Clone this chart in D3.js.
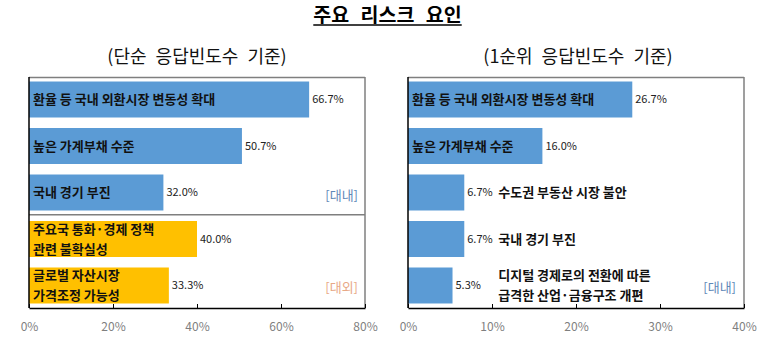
<!DOCTYPE html>
<html><head><meta charset="utf-8">
<script src="https://cdn.jsdelivr.net/npm/d3@7"></script>
<style>body{margin:0;background:#fff}svg{display:block}text{font-family:"Noto Sans CJK KR","Noto Sans",sans-serif}</style>
</head><body>
<svg id="c" width="765" height="341"></svg>
<script>
const title = "주요 리스크 요인";
const leftSubtitle = "(단순 응답빈도수 기준)";
const rightSubtitle = "(1순위 응답빈도수 기준)";

const leftCategories = [["환율 등 국내 외환시장 변동성 확대"], ["높은 가계부채 수준"], ["국내 경기 부진"], ["주요국 통화·경제 정책", "관련 불확실성"], ["글로벌 자산시장", "가격조정 가능성"]];
const leftValues = [66.7, 50.7, 32.0, 40.0, 33.3];
const leftGroup = ["대내", "대내", "대내", "대외", "대외"];
const leftTicks = [0, 20, 40, 60, 80];

const rightCategories = [["환율 등 국내 외환시장 변동성 확대"], ["높은 가계부채 수준"], ["수도권 부동산 시장 불안"], ["국내 경기 부진"], ["디지털 경제로의 전환에 따른", "급격한 산업·금융구조 개편"]];
const rightValues = [26.7, 16.0, 6.7, 6.7, 5.3];
const rightLabelInside = [true, true, false, false, false];
const rightTicks = [0, 10, 20, 30, 40];

const svg = d3.select("#c");
const BLUE = "#5b9bd5", ORANGE = "#ffc000", FRAME = "#7f7f7f";

// Title
const t = svg.append("text").attr("x", 387.5).attr("y", 22).attr("text-anchor", "middle")
  .attr("font-size", 19.5).attr("font-weight", "bold").attr("word-spacing", 7).attr("fill", "#000").text(title);
const tb = t.node().getBBox();
svg.append("line").attr("x1", tb.x).attr("x2", tb.x + tb.width).attr("y1", 25).attr("y2", 25).attr("stroke", "#000").attr("stroke-width", 1.5);

svg.append("text").attr("x", 197).attr("y", 63).attr("text-anchor", "middle").attr("font-size", 18).attr("word-spacing", 5).attr("fill", "#111").text(leftSubtitle);
svg.append("text").attr("x", 578).attr("y", 63).attr("text-anchor", "middle").attr("font-size", 18).attr("word-spacing", 5).attr("fill", "#111").text(rightSubtitle);

const plotTop = 77, plotBottom = 308;
function band(n) {
  return d3.scaleBand().domain(d3.range(n)).range([plotTop, plotBottom]).paddingInner(0.226).paddingOuter(0.097);
}

function axisFrame(g, x, ticks, x0, x1) {
  g.append("line").attr("x1", x0).attr("x2", x1).attr("y1", plotTop + 0.5).attr("y2", plotTop + 0.5).attr("stroke", FRAME).attr("stroke-width", 1.5);
  g.append("line").attr("x1", x1).attr("x2", x1).attr("y1", plotTop).attr("y2", plotBottom).attr("stroke", FRAME).attr("stroke-width", 1.5);
  const ax = g.append("g").attr("transform", `translate(0,${plotBottom})`)
    .call(d3.axisBottom(x).tickValues(ticks).tickSizeInner(-4).tickSizeOuter(0).tickFormat(d => d + "%").tickPadding(14));
  ax.select(".domain").attr("stroke", "#000").attr("stroke-width", 1.5);
  ax.selectAll(".tick line").attr("stroke", "#000");
  ax.selectAll(".tick text").attr("fill", "#7f7f7f").attr("font-size", 12).attr("font-family", "'Noto Sans',sans-serif");
  g.append("line").attr("x1", x0).attr("x2", x0).attr("y1", plotTop).attr("y2", plotBottom).attr("stroke", "#000").attr("stroke-width", 1.5);
}

// LEFT PANEL
{
  const g = svg.append("g");
  const x = d3.scaleLinear().domain([0, 80]).range([29, 365]);
  const y = band(leftValues.length);
  g.selectAll("rect").data(leftValues).join("rect")
    .attr("x", x(0)).attr("y", (d, i) => y(i)).attr("width", d => x(d) - x(0)).attr("height", y.bandwidth())
    .attr("fill", (d, i) => leftGroup[i] === "대내" ? BLUE : ORANGE);
  const sepY = (y(2) + y.bandwidth() + y(3)) / 2 - 1;
  g.append("line").attr("x1", x(0)).attr("x2", x(80)).attr("y1", sepY).attr("y2", sepY).attr("stroke", FRAME).attr("stroke-width", 1.5);
  axisFrame(g, x, leftTicks, x(0), x(80));
  leftValues.forEach((v, i) => {
    const cy = y(i) + y.bandwidth() / 2;
    const lines = leftCategories[i];
    lines.forEach((s, k) => {
      g.append("text").attr("x", x(0) + 4).attr("y", cy + (k - (lines.length - 1) / 2) * 20).attr("dy", "0.36em")
        .attr("font-size", 13).attr("font-weight", "bold").attr("fill", "#111").text(s);
    });
    g.append("text").attr("x", x(v) + 3).attr("y", cy).attr("dy", "0.36em").attr("font-size", 11)
      .attr("font-family", "'Noto Sans',sans-serif").attr("fill", "#222").text(v.toFixed(1) + "%");
  });
  g.append("text").attr("x", x(80) - 7).attr("y", y(2) + y.bandwidth() / 2 + 3).attr("dy", "0.36em").attr("text-anchor", "end")
    .attr("font-size", 13).attr("fill", "#5f88b8").text("[대내]");
  g.append("text").attr("x", x(80) - 7).attr("y", y(4) + y.bandwidth() / 2 + 2).attr("dy", "0.36em").attr("text-anchor", "end")
    .attr("font-size", 13).attr("fill", "#e8a886").text("[대외]");
}

// RIGHT PANEL
{
  const g = svg.append("g");
  const x = d3.scaleLinear().domain([0, 40]).range([408, 744]);
  const y = band(rightValues.length);
  g.selectAll("rect").data(rightValues).join("rect")
    .attr("x", x(0)).attr("y", (d, i) => y(i)).attr("width", d => x(d) - x(0)).attr("height", y.bandwidth())
    .attr("fill", BLUE);
  axisFrame(g, x, rightTicks, x(0), x(40));
  const outsideX = x(d3.max(rightValues.filter((d, i) => !rightLabelInside[i]))) + 34;
  rightValues.forEach((v, i) => {
    const cy = y(i) + y.bandwidth() / 2;
    const lines = rightCategories[i];
    const lx = rightLabelInside[i] ? x(0) + 4 : outsideX;
    lines.forEach((s, k) => {
      g.append("text").attr("x", lx).attr("y", cy + (k - (lines.length - 1) / 2) * 20).attr("dy", "0.36em")
        .attr("font-size", 13).attr("font-weight", "bold").attr("fill", "#111").text(s);
    });
    g.append("text").attr("x", x(v) + 3).attr("y", cy).attr("dy", "0.36em").attr("font-size", 11)
      .attr("font-family", "'Noto Sans',sans-serif").attr("fill", "#222").text(v.toFixed(1) + "%");
  });
  g.append("text").attr("x", x(40) - 8).attr("y", y(4) + y.bandwidth() / 2 + 2).attr("dy", "0.36em").attr("text-anchor", "end")
    .attr("font-size", 13).attr("fill", "#5f88b8").text("[대내]");
}
</script>
</body></html>
